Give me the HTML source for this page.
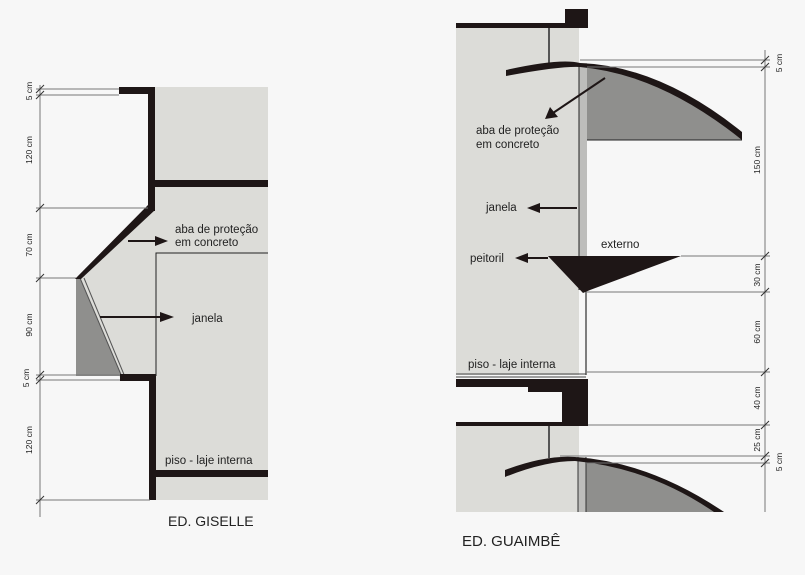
<!DOCTYPE html>
<html><head><style>
html,body{margin:0;padding:0;background:#f7f7f7;}
svg{display:block;}
text{font-family:"Liberation Sans",sans-serif;fill:#222;}
</style></head><body>
<svg width="805" height="575" viewBox="0 0 805 575" xmlns="http://www.w3.org/2000/svg">
<rect width="805" height="575" fill="#f7f7f7"/>
<!-- LEFT -->
<polygon points="155,87 268,87 268,500 155,500 155,378 120,378 80,278 78,278 153,208 153,87" fill="#dcdcd8"/>
<polygon points="76,278 80,278 122,376 76,376" fill="#8f8f8d"/>
<line x1="80" y1="278" x2="122" y2="377" stroke="#555" stroke-width="1"/>
<line x1="84" y1="278" x2="125" y2="377" stroke="#555" stroke-width="1"/>
<g fill="#1e1616">
<rect x="119" y="87" width="36" height="7"/>
<rect x="148" y="87" width="7" height="124"/>
<rect x="155" y="180" width="113" height="7"/>
<polygon points="148,205 155,210 81,279 75,279"/>
<rect x="120" y="374" width="36" height="7"/>
<rect x="149" y="374" width="7" height="126"/>
<rect x="156" y="470" width="112" height="7"/>
</g>
<polyline points="268,253 156,253 156,376" fill="none" stroke="#222" stroke-width="1"/>
<g stroke="#777" stroke-width="1" fill="none">
<line x1="40" y1="85" x2="40" y2="517"/>
<line x1="36" y1="89" x2="119" y2="89"/><line x1="36" y1="95" x2="119" y2="95"/>
<line x1="36" y1="208" x2="148" y2="208"/>
<line x1="36" y1="278" x2="76" y2="278"/>
<line x1="36" y1="375" x2="120" y2="375"/><line x1="36" y1="380" x2="120" y2="380"/>
<line x1="36" y1="500" x2="150" y2="500"/>
</g>
<g stroke="#333" stroke-width="1">
<line x1="36" y1="93" x2="44" y2="85"/><line x1="36" y1="99" x2="44" y2="91"/>
<line x1="36" y1="212" x2="44" y2="204"/><line x1="36" y1="282" x2="44" y2="274"/>
<line x1="36" y1="379" x2="44" y2="371"/><line x1="36" y1="384" x2="44" y2="376"/>
<line x1="36" y1="504" x2="44" y2="496"/>
</g>
<g font-size="8.5">
<text transform="translate(32,91) rotate(-90)" text-anchor="middle">5 cm</text>
<text transform="translate(32,150) rotate(-90)" text-anchor="middle">120 cm</text>
<text transform="translate(32,245) rotate(-90)" text-anchor="middle">70 cm</text>
<text transform="translate(32,325) rotate(-90)" text-anchor="middle">90 cm</text>
<text transform="translate(29,378) rotate(-90)" text-anchor="middle">5 cm</text>
<text transform="translate(32,440) rotate(-90)" text-anchor="middle">120 cm</text>
</g>
<line x1="128" y1="241" x2="157" y2="241" stroke="#1e1616" stroke-width="2"/>
<polygon points="155,236 168,241 155,246" fill="#1e1616"/>
<line x1="100" y1="317" x2="162" y2="317" stroke="#1e1616" stroke-width="2"/>
<polygon points="160,312 174,317 160,322" fill="#1e1616"/>
<g font-size="11.5">
<text x="175" y="233">aba de proteção</text>
<text x="175" y="246">em concreto</text>
<text x="192" y="322">janela</text>
<text x="165" y="464">piso - laje interna</text>
</g>
<text x="168" y="526" font-size="14">ED. GISELLE</text>

<!-- RIGHT -->
<rect x="456" y="27" width="123" height="348" fill="#dcdcd8"/>
<rect x="456" y="425" width="123" height="87" fill="#dcdcd8"/>
<rect x="579" y="63" width="8" height="227" fill="#bdbdbb"/>
<rect x="578" y="457" width="8" height="55" fill="#bdbdbb"/>
<path d="M587,66 Q660,72 742,138 L742,140 L587,140 Z" fill="#8f8f8d"/>
<path d="M586,460 Q650,470 724,512 L586,512 Z" fill="#8f8f8d"/>
<line x1="579" y1="63" x2="579" y2="290" stroke="#222" stroke-width="1"/>
<line x1="587" y1="140" x2="742" y2="140" stroke="#222" stroke-width="1"/>
<line x1="586" y1="290" x2="586" y2="375" stroke="#555" stroke-width="1.5"/>
<line x1="578" y1="457" x2="578" y2="512" stroke="#333" stroke-width="1"/>
<line x1="586" y1="457" x2="586" y2="512" stroke="#333" stroke-width="1"/>
<line x1="549" y1="27" x2="549" y2="65" stroke="#555" stroke-width="2"/>
<line x1="549" y1="425" x2="549" y2="458" stroke="#555" stroke-width="2"/>
<g fill="#1e1616">
<rect x="456" y="23" width="132" height="5"/>
<rect x="565" y="9" width="23" height="18"/>
<path d="M506,70 Q560,58 580,63 Q660,66 742,132 L742,140 Q660,74 580,67 Q560,66 506,76 Z"/>
<path d="M505,470 Q545,455 575,457 Q650,462 724,512 L714,512 Q650,468 575,461 Q545,461 505,477 Z"/>
<polygon points="548,256 681,256 590,290 583,293"/>
<rect x="456" y="379" width="132" height="8"/>
<rect x="528" y="386" width="60" height="6"/>
<rect x="562" y="379" width="26" height="46"/>
<rect x="456" y="422" width="132" height="4"/>
</g>
<line x1="456" y1="374" x2="586" y2="374" stroke="#444" stroke-width="1"/>
<line x1="456" y1="377" x2="586" y2="377" stroke="#444" stroke-width="1"/>
<g stroke="#777" stroke-width="1" fill="none">
<line x1="765" y1="50" x2="765" y2="512"/>
<line x1="580" y1="60" x2="770" y2="60"/><line x1="587" y1="67" x2="770" y2="67"/>
<line x1="681" y1="256" x2="770" y2="256"/>
<line x1="587" y1="292" x2="770" y2="292"/>
<line x1="587" y1="372" x2="770" y2="372"/>
<line x1="588" y1="425" x2="770" y2="425"/>
<line x1="560" y1="456" x2="770" y2="456"/><line x1="586" y1="463" x2="770" y2="463"/>
</g>
<g stroke="#333" stroke-width="1">
<line x1="761" y1="64" x2="769" y2="56"/><line x1="761" y1="71" x2="769" y2="63"/>
<line x1="761" y1="260" x2="769" y2="252"/><line x1="761" y1="296" x2="769" y2="288"/>
<line x1="761" y1="376" x2="769" y2="368"/><line x1="761" y1="429" x2="769" y2="421"/>
<line x1="761" y1="460" x2="769" y2="452"/><line x1="761" y1="467" x2="769" y2="459"/>
</g>
<g font-size="8.5">
<text transform="translate(782,63) rotate(-90)" text-anchor="middle">5 cm</text>
<text transform="translate(760,160) rotate(-90)" text-anchor="middle">150 cm</text>
<text transform="translate(760,275) rotate(-90)" text-anchor="middle">30 cm</text>
<text transform="translate(760,332) rotate(-90)" text-anchor="middle">60 cm</text>
<text transform="translate(760,398) rotate(-90)" text-anchor="middle">40 cm</text>
<text transform="translate(760,440) rotate(-90)" text-anchor="middle">25 cm</text>
<text transform="translate(782,462) rotate(-90)" text-anchor="middle">5 cm</text>
</g>
<line x1="605" y1="78" x2="553" y2="113" stroke="#1e1616" stroke-width="2"/>
<polygon points="545,119 550,107 558,117" fill="#1e1616"/>
<line x1="577" y1="208" x2="538" y2="208" stroke="#1e1616" stroke-width="2"/>
<polygon points="527,208 540,203 540,213" fill="#1e1616"/>
<line x1="548" y1="258" x2="527" y2="258" stroke="#1e1616" stroke-width="2"/>
<polygon points="515,258 528,253 528,263" fill="#1e1616"/>
<g font-size="11.5">
<text x="476" y="134">aba de proteção</text>
<text x="476" y="148">em concreto</text>
<text x="486" y="211">janela</text>
<text x="601" y="248">externo</text>
<text x="470" y="262">peitoril</text>
<text x="468" y="368">piso - laje interna</text>
</g>
<text x="462" y="546" font-size="15">ED. GUAIMBÊ</text>
</svg>
</body></html>
